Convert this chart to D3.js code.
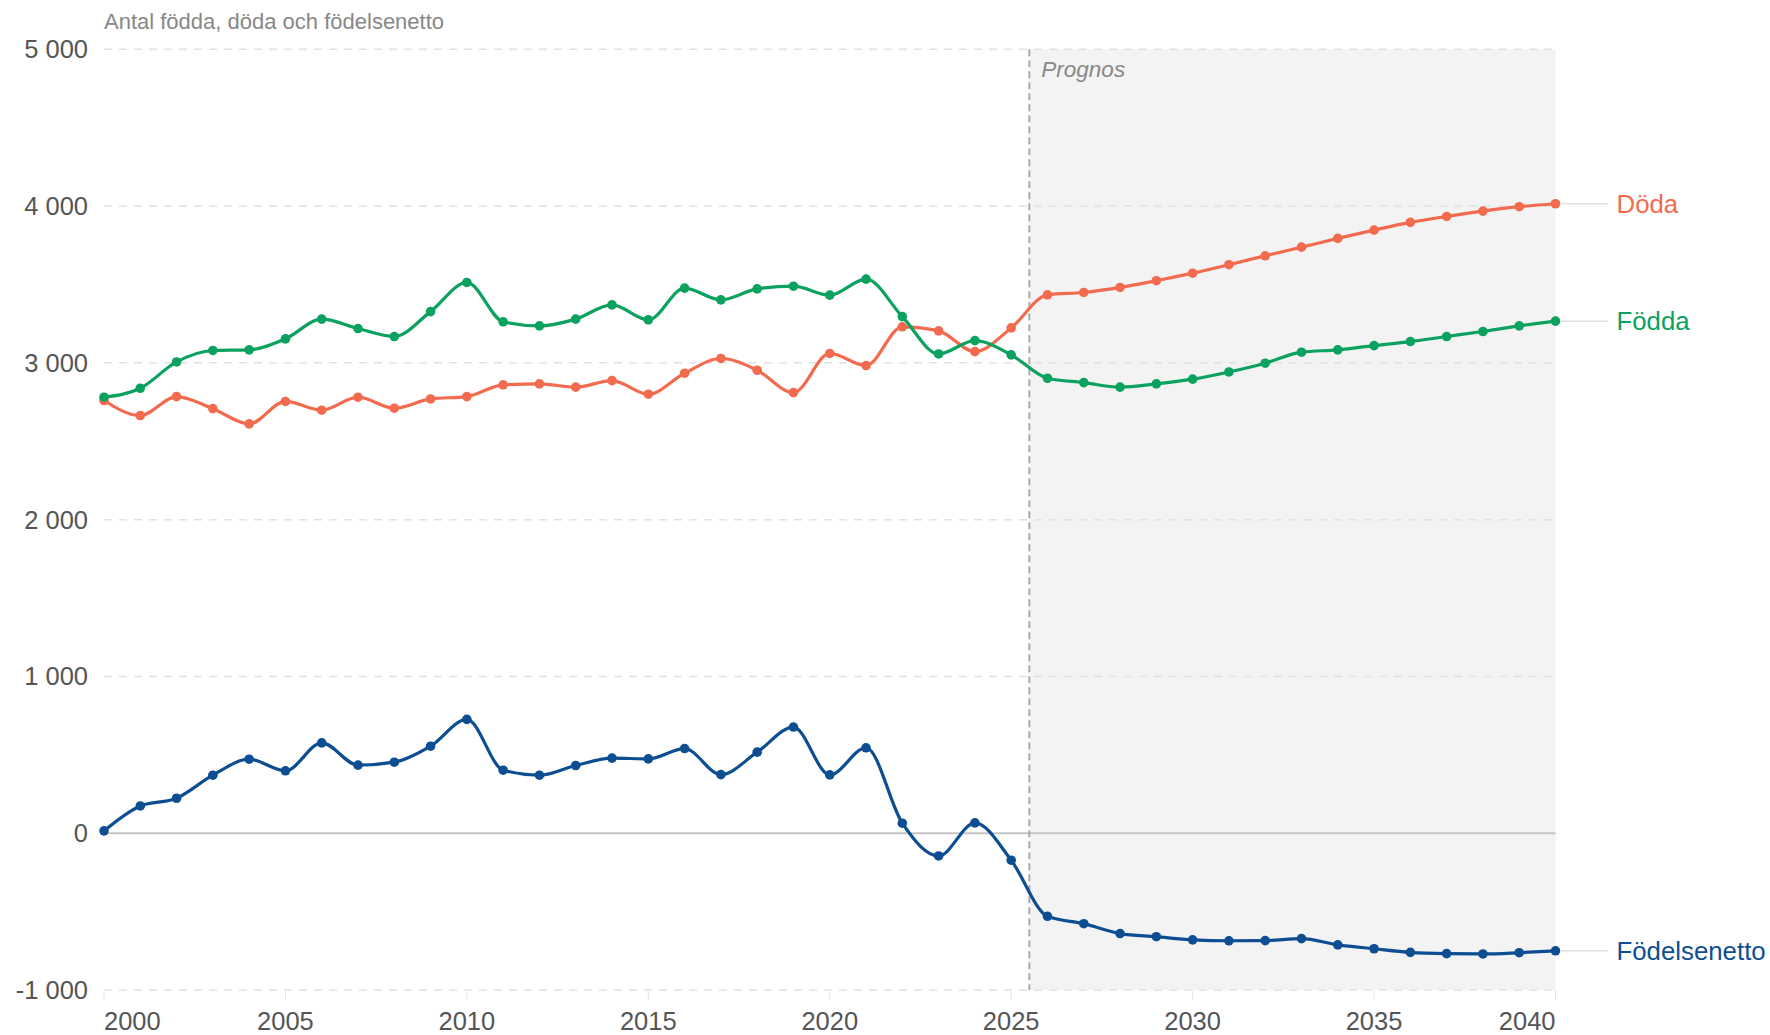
<!DOCTYPE html>
<html>
<head>
<meta charset="utf-8">
<script src="https://cdn.jsdelivr.net/npm/d3@7"></script>
<style>
  body { margin: 0; background: #fff; }
  svg { display: block; font-family: "Liberation Sans", Arial, sans-serif; }
</style>
</head>
<body>
<div id="chart"></div>
<script>
var years = [2000, 2001, 2002, 2003, 2004, 2005, 2006, 2007, 2008, 2009,
             2010, 2011, 2012, 2013, 2014, 2015, 2016, 2017, 2018, 2019,
             2020, 2021, 2022, 2023, 2024, 2025, 2026, 2027, 2028, 2029,
             2030, 2031, 2032, 2033, 2034, 2035, 2036, 2037, 2038, 2039, 2040]

var fodda = [2781, 2838, 3006, 3079, 3083, 3153, 3279, 3219, 3168, 3327,
             3513, 3262, 3236, 3279, 3370, 3274, 3477, 3402, 3472, 3489,
             3432, 3534, 3295, 3057, 3142, 3051, 2902, 2874, 2845, 2866,
             2896, 2942, 2998, 3068, 3083, 3110, 3136, 3168, 3200, 3236, 3266]

var doda = [2760, 2664, 2785, 2708, 2611, 2754, 2698, 2781, 2711, 2770,
            2785, 2860, 2866, 2845, 2887, 2800, 2934, 3028, 2953, 2810,
            3060, 2983, 3230, 3204, 3072, 3223, 3434, 3449, 3481, 3524,
            3572, 3626, 3683, 3738, 3794, 3847, 3896, 3934, 3968, 3996, 4015]

var netto = [15, 174, 223, 370, 472, 398, 576, 434, 453, 555,
             726, 402, 370, 432, 479, 474, 540, 374, 517, 677,
             372, 545, 64, -145, 66, -172, -530, -577, -640, -660,
             -680, -686, -685, -672, -712, -737, -760, -768, -770, -762, -750]

var yTicks = [-1000, 0, 1000, 2000, 3000, 4000, 5000]
var xTicks = [2000, 2005, 2010, 2015, 2020, 2025, 2030, 2035, 2040]
var prognosStart = 2025.5

var series = [
  { name: "Döda", values: doda, color: "#f26b4f" },
  { name: "Födda", values: fodda, color: "#0ba15e" },
  { name: "Födelsenetto", values: netto, color: "#0d4e92" }
]

var width = 1770
var height = 1035
var margin = { top: 49.3, right: 214.5, bottom: 45, left: 104 }

var svg = d3.select("#chart").append("svg")
    .attr("width", width)
    .attr("height", height)

var x = d3.scaleLinear()
    .domain([2000, 2040])
    .range([margin.left, width - margin.right])

var y = d3.scaleLinear()
    .domain([-1000, 5000])
    .range([height - margin.bottom, margin.top])

// prognos area
svg.append("rect")
    .attr("x", x(prognosStart))
    .attr("y", y(5000))
    .attr("width", x(2040) - x(prognosStart))
    .attr("height", y(-1000) - y(5000))
    .style("fill", "#f3f3f3")

// grid
svg.selectAll(".grid")
    .data(yTicks.filter(function(d) { return d != 0; }))
    .enter().append("line")
      .attr("class", "grid")
      .attr("x1", x(2000))
      .attr("x2", x(2040))
      .attr("y1", function(d) { return y(d); })
      .attr("y2", function(d) { return y(d); })
      .style("stroke", "#e2e2e2")
      .style("stroke-width", 1.5)
      .style("stroke-dasharray", "8,7")

svg.append("line")
    .attr("x1", x(2000))
    .attr("x2", x(2040))
    .attr("y1", y(0))
    .attr("y2", y(0))
    .style("stroke", "#c4c4c4")
    .style("stroke-width", 2)

// y labels, space as thousands separator and plain hyphen for minus
svg.selectAll(".yLabel")
    .data(yTicks)
    .enter().append("text")
      .attr("class", "yLabel")
      .attr("x", margin.left - 16)
      .attr("y", function(d) { return y(d) + 9; })
      .style("text-anchor", "end")
      .style("font-size", "25.5px")
      .style("fill", "#555")
      .text(function(d) { return d3.format(",")(d).replace(/,/g, " ").replace("\u2212", "-"); })

// x ticks and labels
svg.selectAll(".xTick")
    .data(xTicks)
    .enter().append("line")
      .attr("class", "xTick")
      .attr("x1", function(d) { return x(d); })
      .attr("x2", function(d) { return x(d); })
      .attr("y1", y(-1000))
      .attr("y2", y(-1000) + 10)
      .style("stroke", "#e6e6e6")
      .style("stroke-width", 1)

svg.selectAll(".xLabel")
    .data(xTicks)
    .enter().append("text")
      .attr("class", "xLabel")
      .attr("x", function(d) { return x(d); })
      .attr("y", 1030)
      .style("text-anchor", function(d, i) {
        return i == 0 ? "start" : (i == xTicks.length - 1 ? "end" : "middle");
      })
      .style("font-size", "25.5px")
      .style("fill", "#555")
      .text(function(d) { return d; })

// prognos line
svg.append("line")
    .attr("x1", x(prognosStart))
    .attr("x2", x(prognosStart))
    .attr("y1", y(5000))
    .attr("y2", y(-1000))
    .style("stroke", "#aaa")
    .style("stroke-width", 2)
    .style("stroke-dasharray", "7,4")

svg.append("text")
    .attr("x", x(prognosStart) + 12)
    .attr("y", 77)
    .style("font-size", "22.5px")
    .style("font-style", "italic")
    .style("fill", "#888")
    .text("Prognos")

// title
svg.append("text")
    .attr("x", margin.left)
    .attr("y", 29)
    .style("font-size", "22px")
    .style("fill", "#888")
    .text("Antal födda, döda och födelsenetto")

var line = d3.line()
    .x(function(d, i) { return x(years[i]); })
    .y(function(d) { return y(d); })
    .curve(d3.curveMonotoneX)

var groups = svg.selectAll(".serie")
    .data(series)
    .enter().append("g")
      .attr("class", "serie")

groups.append("path")
    .attr("d", function(d) { return line(d.values); })
    .style("fill", "none")
    .style("stroke", function(d) { return d.color; })
    .style("stroke-width", 3.2)

groups.selectAll(".dot")
    .data(function(d) { return d.values.map(function(v) { return { v: v, color: d.color }; }); })
    .enter().append("circle")
      .attr("class", "dot")
      .attr("cx", function(d, i) { return x(years[i]); })
      .attr("cy", function(d) { return y(d.v); })
      .attr("r", 4.8)
      .style("fill", function(d) { return d.color; })

// end labels
var last = years.length - 1
groups.append("line")
    .attr("x1", x(2040) + 6)
    .attr("x2", x(2040) + 53)
    .attr("y1", function(d) { return y(d.values[last]); })
    .attr("y2", function(d) { return y(d.values[last]); })
    .style("stroke", "#e0e0e0")
    .style("stroke-width", 1.5)

groups.append("text")
    .attr("x", x(2040) + 61)
    .attr("y", function(d) { return y(d.values[last]) + 9; })
    .style("font-size", "25.8px")
    .style("fill", function(d) { return d.color; })
    .text(function(d) { return d.name; })
</script>
</body>
</html>
